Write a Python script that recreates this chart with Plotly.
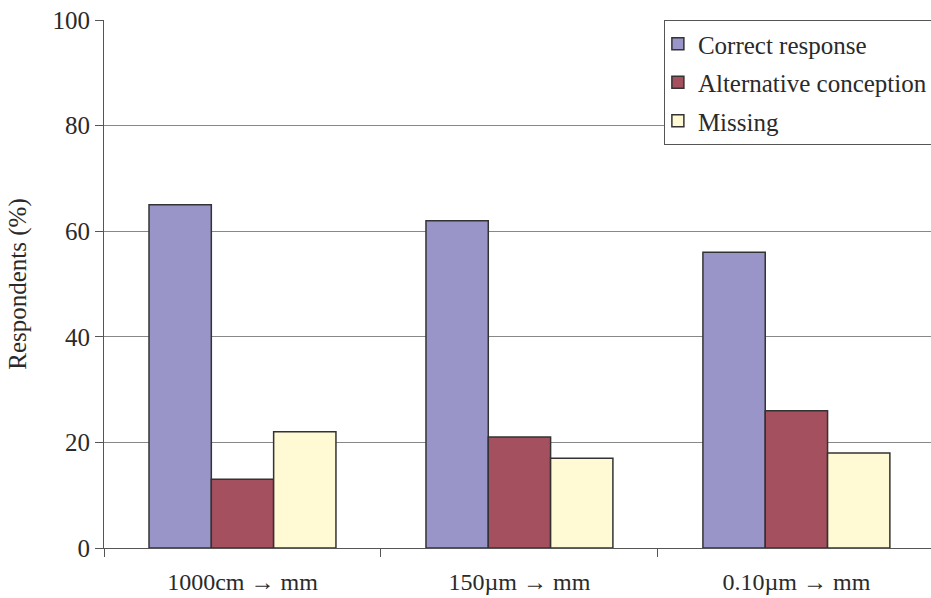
import plotly.graph_objects as go

# Conversion tasks and share of respondents (%) per answer type
categories = ["1000cm → mm", "150µm → mm", "0.10µm → mm"]
correct_response = [65, 62, 56]
alternative_conception = [13, 21, 26]
missing = [22, 17, 18]

series = [
    ("Correct response", correct_response, "#9A95C8"),
    ("Alternative conception", alternative_conception, "#A5505F"),
    ("Missing", missing, "#FFF9D4"),
]

fig = go.Figure()
for i, (name, vals, color) in enumerate(series):
    fig.add_trace(go.Bar(
        name=name, x=categories, y=vals,
        marker=dict(color=color, line=dict(color="#333333", width=1.5)),
        legendgroup=f"g{i}",
    ))

font_family = "Liberation Serif, Times New Roman, serif"

fig.update_layout(
    width=931, height=598,
    margin=dict(l=104, r=0, t=20, b=50, autoexpand=False),
    paper_bgcolor="white", plot_bgcolor="white",
    barmode="group", bargap=0.325, bargroupgap=0,
    font=dict(family=font_family, size=25, color="#2a2a2a"),
    showlegend=True,
    legend=dict(
        x=0.677, y=1, xanchor="left", yanchor="top",
        bgcolor="white", bordercolor="#555555", borderwidth=1,
        font=dict(family=font_family, size=25, color="#2a2a2a"),
        traceorder="grouped", tracegroupgap=3, itemwidth=30,
        indentation=-7,
    ),
    xaxis=dict(
        range=[-0.5, 2.486],
        showline=True, linecolor="#555555", linewidth=1,
        ticks="outside", tickson="boundaries", ticklen=8, tickcolor="#555555",
        showgrid=False, tickfont=dict(size=24), ticklabelstandoff=12,
    ),
    yaxis=dict(
        range=[0, 100], tickvals=[0, 20, 40, 60, 80, 100],
        showline=True, linecolor="#555555", linewidth=1,
        ticks="outside", ticklen=8, tickcolor="#555555",
        showgrid=True, gridcolor="#888888", gridwidth=1,
        zeroline=False, tickfont=dict(size=25),
        title=dict(text="Respondents (%)", font=dict(size=25), standoff=18),
    ),
)

fig.write_html("out.html")
